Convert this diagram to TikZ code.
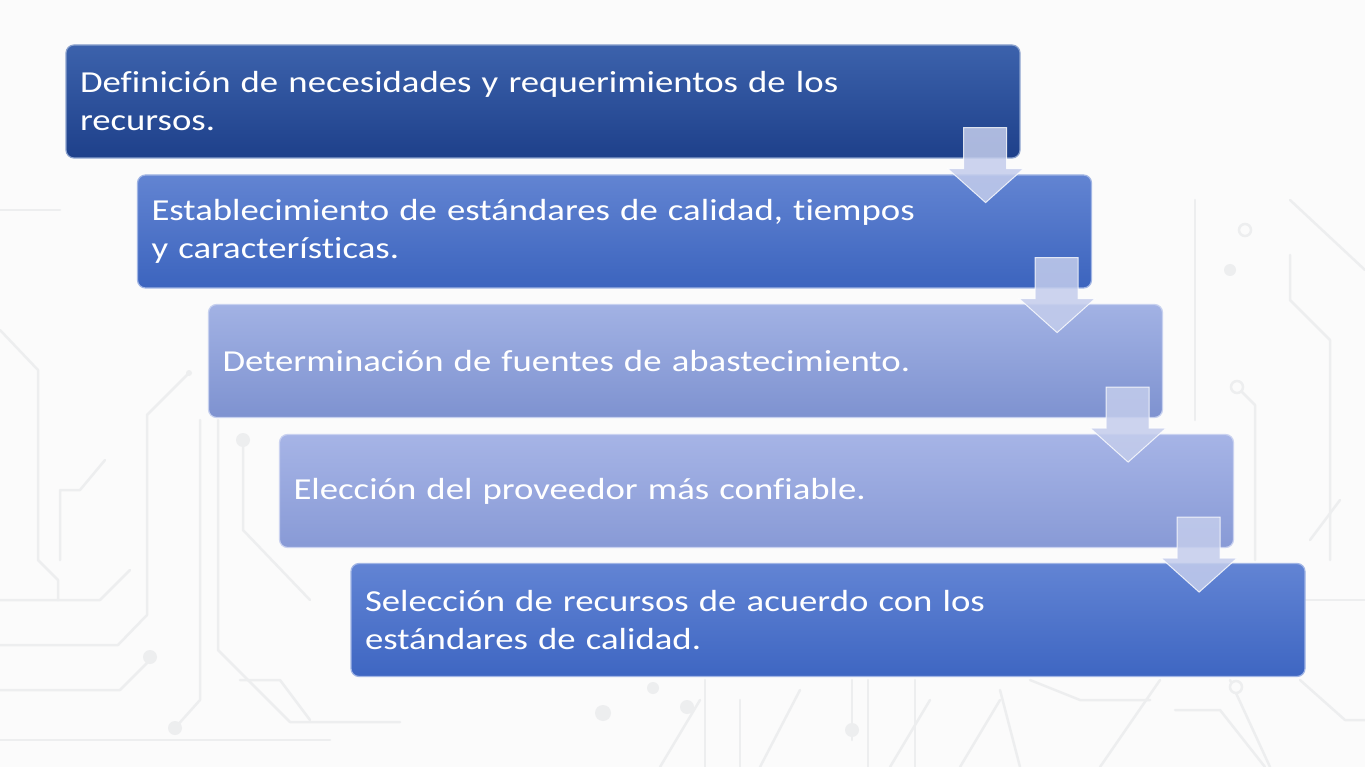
\documentclass[tikz,border=0pt]{standalone}
\usepackage{fontspec}
\setmainfont{Carlito}[FakeStretch=1.205, RawFeature={-liga;-clig;-dlig}]
\usetikzlibrary{calc}
\definecolor{bgc}{RGB}{251,251,251}
\definecolor{circ}{RGB}{237,238,239}
\definecolor{aT}{RGB}{60,98,172}\definecolor{aB}{RGB}{30,64,138}
\definecolor{bT}{RGB}{98,132,210}\definecolor{bB}{RGB}{60,100,190}
\definecolor{cT}{RGB}{162,178,228}\definecolor{cB}{RGB}{126,146,208}
\definecolor{dT}{RGB}{166,180,230}\definecolor{dB}{RGB}{136,154,214}
\definecolor{eT}{RGB}{98,132,212}\definecolor{eB}{RGB}{62,102,194}
\definecolor{arrowfill}{RGB}{196,205,236}
\tikzset{
  stepbox/.style={rounded corners=8pt, minimum width=954pt, minimum height=113pt,
    text width=926pt, inner xsep=14pt, align=left, text=white,
    font=\fontsize{30.5}{38}\selectfont, line width=1.2pt},
  blockarrow/.style={fill=arrowfill, fill opacity=0.85, draw=white, draw opacity=0.8, line width=1pt, line join=miter},
  trace/.style={draw=circ, line width=2.5pt, line join=round, line cap=round},
  pad/.style={fill=circ},
  ring/.style={draw=circ, line width=2.5pt, fill=bgc}
}
\newcommand\stagearrow[1]{%
  \begin{scope}[shift={(#1.south east)}]
    \path[blockarrow] (-57,-31) -- (-14,-31) -- (-14,10) -- (3,10) -- (-35,44) -- (-73,10) -- (-57,10) -- cycle;
  \end{scope}}
\begin{document}
\begin{tikzpicture}[x=1pt,y=-1pt]
\useasboundingbox (0,0) rectangle (1365,767);
\fill[bgc] (0,0) rectangle (1365,767);
% faint circuit background
\path[trace] (0,330) -- (38,370) -- (38,560) -- (58,580) -- (58,600);
\path[trace] (189,373) -- (147,415) -- (147,615) -- (118,645) -- (0,645);
\path[trace] (0,690) -- (120,690) -- (150,660);
\path[trace] (200,420) -- (200,700) -- (175,728);
\path[trace] (218,420) -- (218,650) -- (290,722) -- (400,722);
\path[trace] (243,440) -- (243,530) -- (310,600);
\path[trace] (105,460) -- (80,490) -- (60,490) -- (60,560);
\path[trace] (0,600) -- (100,600) -- (130,570);
\path[trace] (0,740) -- (330,740);
\path[trace] (700,700) -- (660,767);
\path[trace] (705,680) -- (705,767);
\path[trace] (740,700) -- (740,767);
\path[trace] (800,690) -- (760,767);
\path[trace] (852,680) -- (852,740);
\path[trace] (868,680) -- (868,767);
\path[trace] (915,680) -- (915,767);
\path[trace] (930,700) -- (890,767);
\path[trace] (1000,700) -- (960,767);
\path[trace] (1000,690) -- (1020,767);
\path[trace] (1160,680) -- (1100,767);
\path[trace] (1030,680) -- (1080,700) -- (1150,700);
\path[trace] (1175,710) -- (1220,710) -- (1265,767);
\path[trace] (1230,680) -- (1270,767);
\path[trace] (1300,680) -- (1345,720) -- (1365,720);
\path[trace] (1237,387) -- (1255,405) -- (1255,560);
\path[trace] (1290,255) -- (1290,300) -- (1330,340) -- (1330,560);
\path[trace] (1290,200) -- (1365,270);
\path[trace] (1195,200) -- (1195,420);
\path[trace] (1260,600) -- (1365,600);
\path[trace] (1310,540) -- (1340,500);
\path[trace] (240,680) -- (280,680) -- (310,720);
\path[trace] (0,210) -- (60,210);
\path[ring] (1237,387) circle (6);
\path[ring] (1245,230) circle (6);
\path[ring] (1236,687) circle (6);
\path[pad] (189,373) circle (3);
\path[pad] (243,440) circle (7);
\path[pad] (150,657) circle (7);
\path[pad] (175,728) circle (7);
\path[pad] (603,713) circle (8);
\path[pad] (687,707) circle (7);
\path[pad] (653,688) circle (6);
\path[pad] (852,730) circle (7);
\path[pad] (1230,270) circle (6);
% boxes
\node[stepbox, top color=aT, bottom color=aB, draw=aT!60!white] (b1) at (543,101.5)
  {Definición de necesidades y requerimientos de los\\recursos.};
\node[stepbox, top color=bT, bottom color=bB, draw=bT!60!white] (b2) at (614.5,231.5)
  {Establecimiento de estándares de calidad, tiempos\\y características.};
\node[stepbox, top color=cT, bottom color=cB, draw=cT!60!white] (b3) at (685.5,361)
  {Determinación de fuentes de abastecimiento.};
\node[stepbox, top color=dT, bottom color=dB, draw=dT!60!white] (b4) at (756.5,491)
  {Elección del proveedor más confiable.};
\node[stepbox, top color=eT, bottom color=eB, draw=eT!60!white] (b5) at (828,620)
  {Selección de recursos de acuerdo con los\\estándares de calidad.};
% arrows
\stagearrow{b1}
\stagearrow{b2}
\stagearrow{b3}
\stagearrow{b4}
\end{tikzpicture}
\end{document}
